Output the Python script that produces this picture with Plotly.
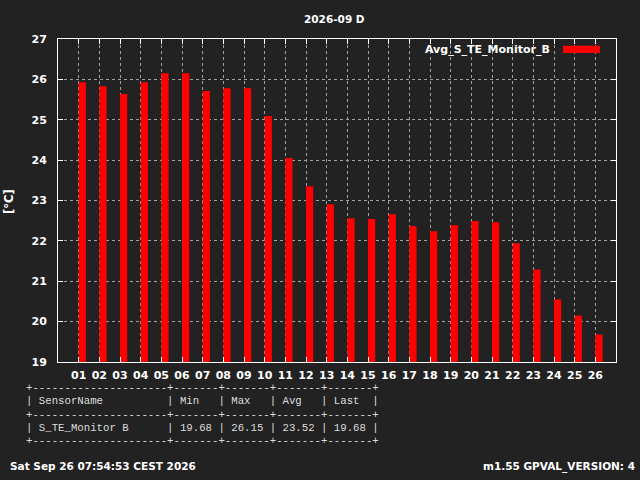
import plotly.graph_objects as go

days = list(range(1, 27))
day_labels = [f"{d:02d}" for d in days]
avg_temp = [25.93, 25.83, 25.64, 25.93, 26.15, 26.15, 25.71, 25.78, 25.78, 25.09,
            24.05, 23.35, 22.91, 22.56, 22.54, 22.66, 22.37, 22.24, 22.39, 22.49,
            22.46, 21.94, 21.29, 20.55, 20.15, 19.68]
y_min, y_max = 19, 27
series_name = "Avg_S_TE_Monitor_B"
title_text = "2026-09 D"
y_label = "[°C]"
table_lines = [
    "+---------------------+-------+-------+-------+-------+",
    "| SensorName          | Min   | Max   | Avg   | Last  |",
    "+---------------------+-------+-------+-------+-------+",
    "| S_TE_Monitor B      | 19.68 | 26.15 | 23.52 | 19.68 |",
    "+---------------------+-------+-------+-------+-------+",
]
footer_left = "Sat Sep 26 07:54:53 CEST 2026"
footer_right = "m1.55 GPVAL_VERSION: 4"

W, H = 640, 480
L, R, T, B = 58, 24, 39, 118
PW, PH = W - L - R, H - T - B
BG = "#222222"
BOLD = "DejaVu Sans, sans-serif"


def px(x):
    return (x - L) / PW


def py(y):
    return (H - B - y) / PH


fig = go.Figure()
fig.add_trace(go.Bar(
    x=days, y=[v - y_min for v in avg_temp], base=y_min, name=series_name,
    marker=dict(color="#ff0000", line=dict(width=0)),
    width=0.35, offset=0, showlegend=False, hoverinfo="skip",
))

axis_common = dict(
    showline=True, linecolor="white", linewidth=1, mirror="ticks",
    ticks="inside", ticklen=5, tickcolor="white", tickwidth=1,
    showgrid=True, gridcolor="#a0a0a0", griddash="dot", gridwidth=1,
    zeroline=False,
    tickfont=dict(family=BOLD, size=11, color="white", weight="bold"),
)

fig.update_layout(
    width=W, height=H,
    margin=dict(l=L, r=R, t=T, b=B, pad=0),
    paper_bgcolor=BG, plot_bgcolor=BG,
    showlegend=False,
    xaxis=dict(range=[0, 27], tickmode="array", tickvals=days, ticktext=day_labels,
               ticklabelstandoff=3, **axis_common),
    yaxis=dict(range=[y_min, y_max], tickmode="array", tickvals=list(range(y_min, y_max + 1)),
               ticktext=[str(v) for v in range(y_min, y_max + 1)],
               ticklabelstandoff=8, **axis_common),
)

annots = []
annots.append(dict(text=f"<b>{title_text}</b>", x=px(334.5), y=py(19), xanchor="center",
                   yanchor="middle", font=dict(family=BOLD, size=10.5, color="white")))
annots.append(dict(text=f"<b>{y_label}</b>", x=px(9), y=py(202), xanchor="center",
                   yanchor="middle", textangle=-90,
                   font=dict(family=BOLD, size=11.5, color="white")))
annots.append(dict(text=f"<b>{series_name}</b>", x=px(552), y=py(49), xanchor="right",
                   yanchor="middle", font=dict(family=BOLD, size=11, color="white")))
line_y = [388, 401.3, 414.6, 427.9, 441.2]
for txt, yy in zip(table_lines, line_y):
    annots.append(dict(text=txt.replace(" ", "&nbsp;"), x=px(23.8), y=py(yy), xanchor="left",
                       yanchor="middle",
                       font=dict(family="Liberation Mono, monospace", size=10.7, color="#dddddd")))
annots.append(dict(text=f"<b>{footer_left}</b>", x=px(8), y=py(466), xanchor="left",
                   yanchor="middle", font=dict(family=BOLD, size=10.5, color="white")))
annots.append(dict(text=f"<b>{footer_right}</b>", x=px(637), y=py(466), xanchor="right",
                   yanchor="middle", font=dict(family=BOLD, size=10.5, color="white")))
for a in annots:
    a.update(xref="paper", yref="paper", showarrow=False)
fig.update_layout(annotations=annots)

fig.add_shape(type="rect", xref="paper", yref="paper",
              x0=px(563), x1=px(600), y0=py(53), y1=py(45.7),
              fillcolor="#ff0000", line=dict(width=0))

fig.write_html("out.html", config={"displayModeBar": False},
               post_script="document.body.style.margin='0';document.body.style.background='#222222';")
